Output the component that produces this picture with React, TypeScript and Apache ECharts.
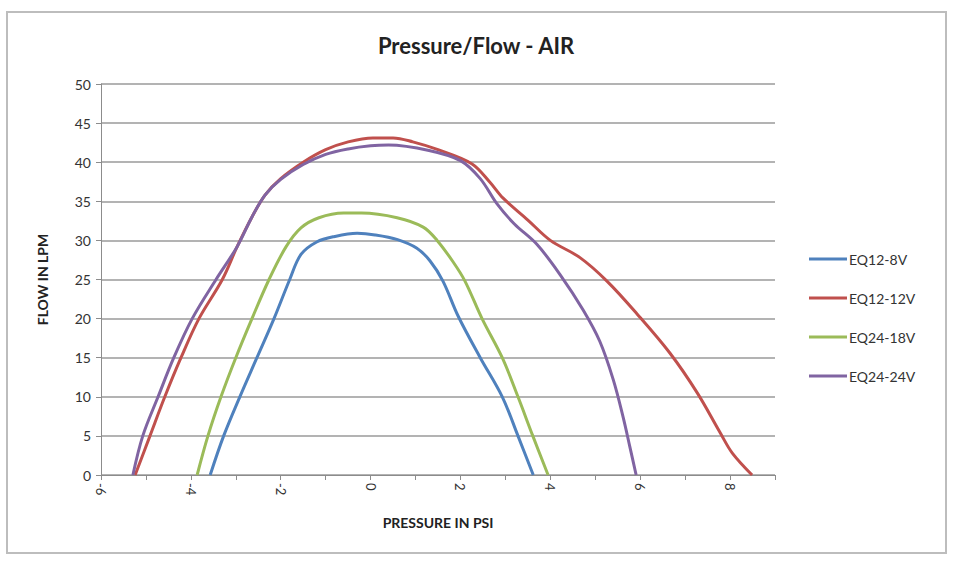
import React, { useEffect, useRef } from "react";
import * as echarts from "echarts";

const seriesNames = ["EQ12-8V", "EQ12-12V", "EQ24-18V", "EQ24-24V"];
const seriesColors = ["#4F81BD", "#C0504D", "#9BBB59", "#8064A2"];

const eq12_8v: [number, number][] = [
  [-3.57, 0], [-3.27, 5], [-2.91, 10], [-2.53, 15], [-2.15, 20], [-1.8, 25],
  [-1.55, 28.2], [-1.2, 29.8], [-0.8, 30.5], [-0.3, 30.9], [0.1, 30.7],
  [0.6, 30.1], [1.03, 29.0], [1.32, 27.4], [1.61, 24.8], [1.95, 20.3],
  [2.44, 15], [2.93, 10], [3.28, 5], [3.62, 0],
];

const eq12_12v: [number, number][] = [
  [-5.24, 0], [-4.91, 5], [-4.58, 10], [-4.22, 15], [-3.82, 20], [-3.3, 25],
  [-2.97, 29.2], [-2.64, 33.0], [-2.35, 35.8], [-2.0, 37.9], [-1.5, 40.0],
  [-1.0, 41.6], [-0.5, 42.6], [0.05, 43.1], [0.5, 43.1], [0.94, 42.6],
  [1.5, 41.6], [2.25, 39.8], [2.66, 37.4], [2.95, 35.4], [3.5, 32.6],
  [4.0, 30.0], [4.66, 27.8], [5.26, 24.8], [5.93, 20.6], [6.66, 15.6],
  [7.27, 10.5], [7.78, 5.4], [8.05, 2.8], [8.49, 0],
];

const eq24_18v: [number, number][] = [
  [-3.86, 0], [-3.62, 5], [-3.33, 10], [-3.0, 15], [-2.64, 20], [-2.26, 25],
  [-1.88, 29.2], [-1.55, 31.6], [-1.15, 32.9], [-0.6, 33.5], [-0.2, 33.5],
  [0.59, 32.9], [1.17, 31.7], [1.48, 30], [1.83, 27.3], [2.1, 24.8],
  [2.48, 20], [2.93, 15], [3.28, 10], [3.61, 5], [3.95, 0],
];

const eq24_24v: [number, number][] = [
  [-5.29, 0], [-5.07, 5], [-4.73, 10], [-4.38, 15], [-3.97, 20], [-3.44, 25],
  [-2.97, 29.2], [-2.64, 33.0], [-2.35, 35.8], [-2.0, 37.8], [-1.5, 39.7],
  [-1.0, 41.0], [-0.5, 41.7], [0.0, 42.1], [0.4, 42.2], [1.3, 41.5],
  [2.0, 40.2], [2.44, 37.9], [2.81, 34.7], [3.2, 32.1], [3.7, 29.5],
  [4.22, 25.6], [4.73, 21.1], [5.1, 17.1], [5.4, 12.2], [5.62, 7.4],
  [5.77, 3.6], [5.91, 0],
];

const seriesData = [eq12_8v, eq12_12v, eq24_18v, eq24_24v];

const xMin = -6;
const xMax = 9;
const xInterval = 1;
const yMin = 0;
const yMax = 50;
const yInterval = 5;

const titleText = "Pressure/Flow - AIR";
const xAxisName = "PRESSURE IN PSI";
const yAxisName = "FLOW IN LPM";

const FONT = "Lato, 'Open Sans', 'DejaVu Sans', sans-serif";

export default function App() {
  const ref = useRef<HTMLDivElement>(null);

  useEffect(() => {
    if (!ref.current) return;
    const chart = echarts.init(ref.current, undefined, { renderer: "svg" });
    chart.setOption({
      animation: false,
      backgroundColor: "#ffffff",
      textStyle: { fontFamily: FONT },
      graphic: [
        {
          type: "rect",
          shape: { x: 7, y: 12, width: 939, height: 541 },
          style: { fill: "none", stroke: "#bdbdbd", lineWidth: 2 },
          silent: true,
        },
      ],
      title: {
        text: titleText,
        left: 471,
        textAlign: "center",
        top: 29,
        textStyle: { fontFamily: FONT, fontSize: 22, fontWeight: "bold", color: "#222" },
      },
      legend: {
        orient: "vertical",
        left: 804,
        top: 247,
        itemWidth: 38,
        itemHeight: 14,
        itemGap: 25,
        data: seriesNames.map((n) => ({
          name: n,
          icon: "path://M0,6 L38,6 L38,9 L0,9 Z",
        })),
        textStyle: { fontFamily: FONT, fontSize: 14, color: "#333", padding: [0, 0, 0, -3] },
      },
      grid: { left: 101, right: 178, top: 84, bottom: 88, containLabel: false },
      xAxis: {
        type: "value",
        min: xMin,
        max: xMax,
        interval: xInterval,
        name: xAxisName,
        nameLocation: "middle",
        nameGap: 40,
        nameTextStyle: { fontFamily: FONT, fontSize: 14, fontWeight: "bold", color: "#222" },
        axisLine: { show: true, onZero: false, lineStyle: { color: "#8c8c8c", width: 1 } },
        axisTick: { show: true, length: 5, lineStyle: { color: "#8c8c8c" } },
        splitLine: { show: false },
        axisLabel: {
          rotate: -90,
          fontFamily: FONT,
          fontSize: 13,
          color: "#333",
          margin: 8,
          formatter: (v: number) => (Math.round(v) % 2 === 0 && v <= 8 ? String(v) : ""),
        },
      },
      yAxis: {
        type: "value",
        min: yMin,
        max: yMax,
        interval: yInterval,
        name: yAxisName,
        nameLocation: "middle",
        nameRotate: 90,
        nameGap: 52,
        nameTextStyle: { fontFamily: FONT, fontSize: 14, fontWeight: "bold", color: "#222" },
        axisLine: { show: true, onZero: false, lineStyle: { color: "#8c8c8c", width: 1 } },
        axisTick: { show: true, length: 5, lineStyle: { color: "#8c8c8c" } },
        splitLine: { show: true, lineStyle: { color: "#9a9a9a", width: 1.5 } },
        axisLabel: { fontFamily: FONT, fontSize: 14, color: "#333", margin: 10 },
      },
      series: seriesNames.map((name, i) => ({
        name,
        type: "line",
        data: seriesData[i],
        smooth: 0.35,
        showSymbol: false,
        symbol: "none",
        color: seriesColors[i],
        lineStyle: { width: 3, color: seriesColors[i] },
      })),
    });
    return () => chart.dispose();
  }, []);

  return (
    <div
      ref={ref}
      style={{ position: "fixed", left: 0, top: 0, width: 953, height: 563 }}
    />
  );
}
